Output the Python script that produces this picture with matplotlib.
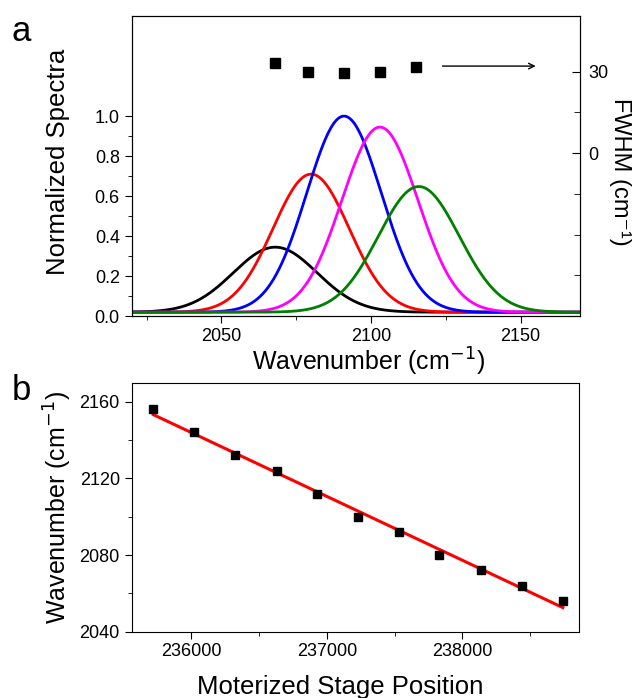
import numpy as np
import matplotlib
matplotlib.use("Agg")
import matplotlib.pyplot as plt
from matplotlib.ticker import MultipleLocator, FixedLocator

plt.rcParams['font.family'] = ['Liberation Sans', 'DejaVu Sans']

# ---- Panel a data: Gaussian fit parameters ----
peak_centers = [2068, 2080, 2091, 2103, 2116]
peak_heights = [0.345, 0.71, 1.0, 0.945, 0.648]
peak_fwhm = [33.0, 30.0, 29.4, 29.9, 31.8]
peak_colors = ['black', '#ff0000', '#0000ff', '#ff00ff', '#008000']
baseline = 0.02
fwhm_x = [2068, 2079, 2091, 2103, 2115]
fwhm_y = [33.0, 30.0, 29.4, 29.9, 31.8]

# ---- Panel b data ----
stage_pos = [235720, 236020, 236320, 236630, 236930, 237230, 237530, 237830, 238140, 238440, 238740]
wavenum = [2156, 2144, 2132, 2124, 2112, 2100, 2092, 2080, 2072, 2064, 2056]

fig = plt.figure(figsize=(6.42, 6.98), dpi=100)

TL = 13
AL = 18

# ---------------- Panel a ----------------
ax = fig.add_axes([0.205, 0.547, 0.699, 0.430])
x = np.linspace(2020, 2170, 800)
for c, h, w, col in zip(peak_centers, peak_heights, peak_fwhm, peak_colors):
    sig = w / 2.3548
    y = baseline + (h - baseline) * np.exp(-0.5 * ((x - c) / sig) ** 2)
    ax.plot(x, y, color=col, lw=2.0)
ax.set_xlim(2020, 2170)
ax.set_ylim(0, 1.5)
ax.yaxis.set_major_locator(FixedLocator([0, 0.2, 0.4, 0.6, 0.8, 1.0]))
ax.yaxis.set_minor_locator(FixedLocator([0.1, 0.3, 0.5, 0.7, 0.9]))
ax.yaxis.set_major_formatter(matplotlib.ticker.FormatStrFormatter('%.1f'))
ax.xaxis.set_major_locator(MultipleLocator(50))
ax.xaxis.set_minor_locator(MultipleLocator(25))
ax.tick_params(which='both', direction='out', top=False, right=False, labelsize=TL)
ax.tick_params(which='major', length=5)
ax.tick_params(which='minor', length=3)
ax.set_xlabel('Wavenumber (cm$^{-1}$)', fontsize=AL)
ax.xaxis.set_label_coords(0.527, -0.10)
ax.set_ylabel('Normalized Spectra', fontsize=18.5)
ax.yaxis.set_label_coords(-0.138, 0.515)

ax2 = ax.twinx()
ax2.plot(fwhm_x, fwhm_y, 's', color='black', ms=6.5, ls='none')
ax2.set_ylim(-60, 50.4)
ax2.yaxis.set_major_locator(FixedLocator([0, 30]))
ax2.yaxis.set_minor_locator(FixedLocator([-60, -45, -30, -15, 15]))
ax2.tick_params(which='both', direction='in', labelsize=TL, pad=6)
ax2.tick_params(which='major', length=6)
ax2.tick_params(which='minor', length=4)
ax2.set_ylabel('FWHM (cm⁻¹)', fontsize=17, rotation=270)
ax2.yaxis.set_label_coords(1.113, 0.48)
ax2.annotate('', xy=(2156, 32), xytext=(2123, 32),
             arrowprops=dict(arrowstyle='->', color='black', lw=1.0))

# ---------------- Panel b ----------------
bx = fig.add_axes([0.205, 0.095, 0.697, 0.357])
bx.plot(stage_pos, wavenum, 's', color='black', ms=5.5, ls='none', zorder=3)
coef = np.polyfit(stage_pos, wavenum, 1)
xf = np.array([stage_pos[0], stage_pos[-1]])
bx.plot(xf, np.polyval(coef, xf), color='#ff0000', lw=2.2, zorder=2)
bx.set_xlim(235560, 238860)
bx.set_ylim(2040, 2170)
bx.yaxis.set_major_locator(FixedLocator([2040, 2080, 2120, 2160]))
bx.yaxis.set_minor_locator(FixedLocator([2060, 2100, 2140]))
bx.xaxis.set_major_locator(MultipleLocator(1000))
bx.xaxis.set_minor_locator(MultipleLocator(500))
bx.tick_params(which='both', direction='out', top=False, right=False, labelsize=TL)
bx.tick_params(which='major', length=5)
bx.tick_params(which='minor', length=3)
bx.set_xlabel('Moterized Stage Position', fontsize=18.5)
bx.xaxis.set_label_coords(0.466, -0.172)
bx.set_ylabel('Wavenumber (cm$^{-1}$)', fontsize=AL, labelpad=4)

fig.text(0.018, 0.955, 'a', fontsize=25, va='center', ha='left')
fig.text(0.018, 0.44, 'b', fontsize=25, va='center', ha='left')

fig.savefig('out.png', dpi=100)
